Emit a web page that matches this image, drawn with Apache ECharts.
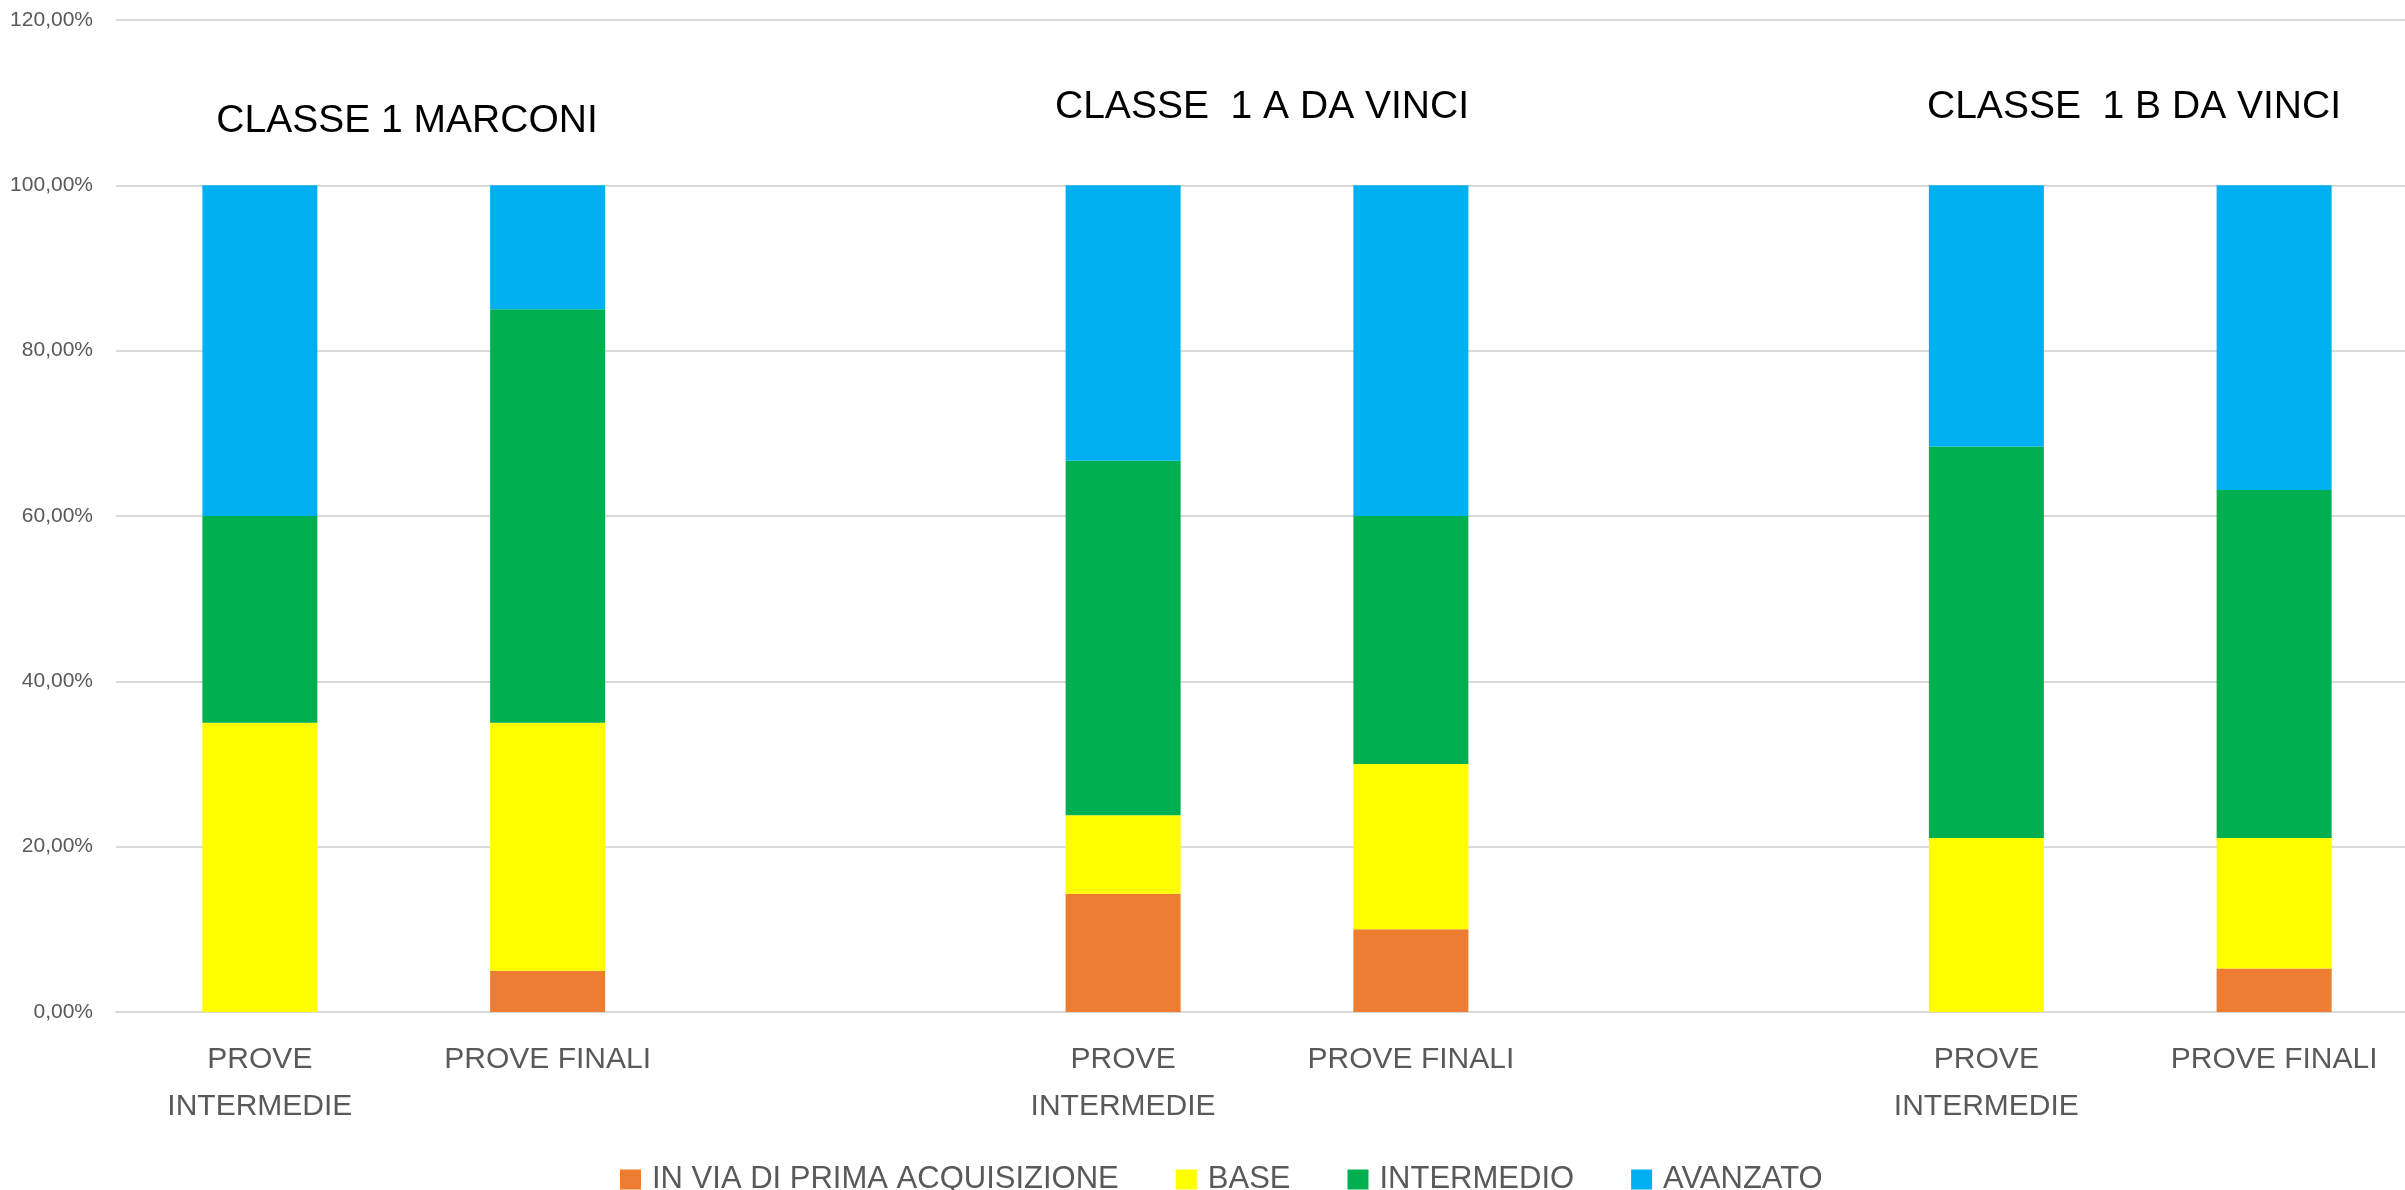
<!DOCTYPE html>
<html>
<head>
<meta charset="utf-8">
<script src="https://cdn.jsdelivr.net/npm/echarts@6/dist/echarts.min.js"></script>
<style>
  html, body { margin: 0; padding: 0; background: #fff; overflow: hidden; }
  /* the plot area runs a little past the right edge of the picture */
  #chart { width: 2420px; height: 1190px; }
</style>
</head>
<body>
<div id="chart"></div>
<script>
  // categorie (le vuote separano le tre classi)
  const categories = ['PROVE\nINTERMEDIE', 'PROVE FINALI', '', 'PROVE\nINTERMEDIE', 'PROVE FINALI', '', 'PROVE\nINTERMEDIE', 'PROVE FINALI']
  const classTitles = ['CLASSE 1 MARCONI', 'CLASSE  1 A DA VINCI', 'CLASSE  1 B DA VINCI']

  // percentuali per livello
  const inVia = [0, 0.05, null, 0.1429, 0.10, null, 0, 0.0526]
  const base = [0.35, 0.30, null, 0.0952, 0.20, null, 0.2105, 0.1579]
  const intermedio = [0.25, 0.50, null, 0.4286, 0.30, null, 0.4737, 0.4211]
  const avanzato = [0.40, 0.15, null, 0.3333, 0.40, null, 0.3158, 0.3684]

  const font = '"Liberation Sans", Arial, sans-serif'
  const grey = '#595959'

  const chart = echarts.init(document.getElementById('chart'))

  function pct(v) {
    return (v * 100).toFixed(2).replace('.', ',') + '%'
  }

  function makeSeries(name, data, color) {
    return {
      name: name,
      type: 'bar',
      stack: 'livelli',
      barWidth: 115,
      data: data,
      itemStyle: { color: color },
      animation: false
    }
  }

  chart.setOption({
    textStyle: { fontFamily: font },
    grid: {
      left: 116,
      top: 20,
      width: 2302,
      height: 992
    },
    legend: {
      left: 620,
      top: 1164,
      padding: 0,
      itemWidth: 21,
      itemHeight: 20,
      itemGap: 57,
      icon: 'rect',
      textStyle: { fontSize: 31, color: grey, fontFamily: font, padding: [0, 0, 0, 6] },
      data: ['IN VIA DI PRIMA ACQUISIZIONE', 'BASE', 'INTERMEDIO', 'AVANZATO']
    },
    xAxis: {
      type: 'category',
      data: categories,
      axisTick: { show: false },
      axisLine: { lineStyle: { color: '#D9D9D9', width: 2 } },
      axisLabel: {
        interval: 0,
        margin: 24,
        fontSize: 30,
        lineHeight: 47,
        color: grey,
        fontFamily: font
      }
    },
    yAxis: {
      type: 'value',
      min: 0,
      max: 1.2,
      interval: 0.2,
      axisLine: { show: false },
      axisTick: { show: false },
      splitLine: { lineStyle: { color: '#D9D9D9', width: 2 } },
      axisLabel: {
        margin: 23,
        fontSize: 21,
        color: grey,
        fontFamily: font,
        formatter: pct
      }
    },
    graphic: [
      { type: 'text', x: 407, y: 121, style: { text: classTitles[0], fill: '#000', font: '39px ' + font, textAlign: 'center', textVerticalAlign: 'middle' } },
      { type: 'text', x: 1262, y: 107, style: { text: classTitles[1], fill: '#000', font: '39px ' + font, textAlign: 'center', textVerticalAlign: 'middle' } },
      { type: 'text', x: 2134, y: 107, style: { text: classTitles[2], fill: '#000', font: '39px ' + font, textAlign: 'center', textVerticalAlign: 'middle' } }
    ],
    series: [
      makeSeries('IN VIA DI PRIMA ACQUISIZIONE', inVia, '#ED7D31'),
      makeSeries('BASE', base, '#FFFF00'),
      makeSeries('INTERMEDIO', intermedio, '#00B050'),
      makeSeries('AVANZATO', avanzato, '#00B0F0')
    ]
  })
</script>
</body>
</html>
